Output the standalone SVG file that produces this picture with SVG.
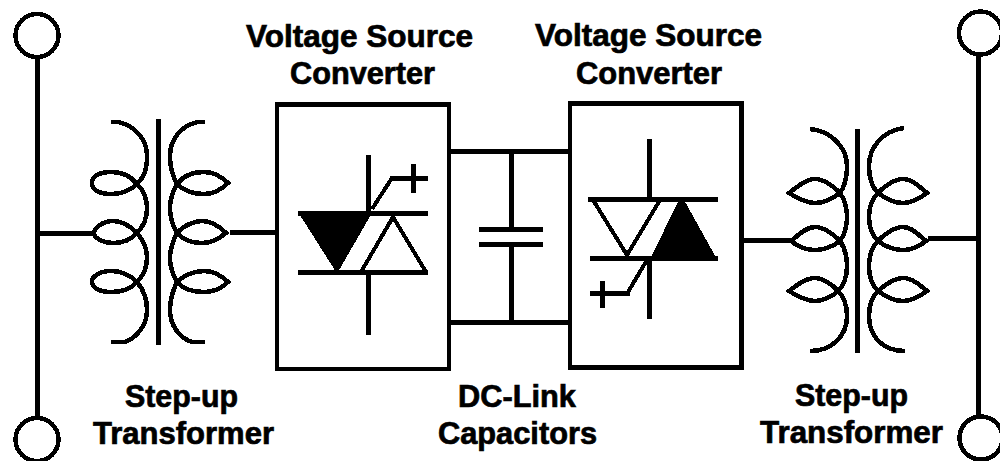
<svg xmlns="http://www.w3.org/2000/svg" width="1000" height="461" viewBox="0 0 1000 461">
<defs>
<style>
.l{fill:none;stroke:#000;stroke-width:5;shape-rendering:crispEdges}
.c{fill:none;stroke:#000;stroke-width:4.5;shape-rendering:crispEdges}
.t{fill:none;stroke:#000;stroke-width:4;stroke-linejoin:miter;shape-rendering:crispEdges}
.f{fill:#000;stroke:none;shape-rendering:crispEdges}
.b{fill:#fff;stroke:#000;stroke-width:4.5;shape-rendering:crispEdges}
text{font-family:"Liberation Sans",Arial,sans-serif;font-weight:700;font-size:30.5px;fill:#000;stroke:#000;stroke-width:.7}
</style>
</defs>
<rect width="1000" height="461" fill="#fff"/>
<g id="connectors">
<path class="l" d="M37.500 57V417M38 233H93M230 232H276"/>
<path class="l" d="M449 151H570M449 322H570M511 151V229M511 244V322"/>
<path class="l" d="M744 240H790M928 238H978M978.300 55V416"/>
</g>
<g id="bus-top-left"><circle class="c" cx="37" cy="35.500" r="21.500"/></g>
<g id="bus-bottom-left"><circle class="c" cx="37" cy="439.500" r="21.500"/></g>
<g id="bus-top-right"><circle class="c" cx="980.500" cy="33" r="21.500"/></g>
<g id="bus-bottom-right"><circle class="c" cx="981" cy="438" r="21.500"/></g>
<g id="transformer-left">
<path class="l" d="M158.500 119V345"/>
<path class="c" d="M111 122H118C136 126 147 140 147 156C147 170 144 177 137 184C130 191 120 194 111 194C100 194 92 190 92 183C92 176 100 172 111 172C120 172 130 175 137 184C144 191 147 198 147 208C147 218 144 226 137 233C130 241 120 243 113 243C103 243 94 238 94 233C94 228 103 221 113 221C120 221 130 225 137 233C144 241 147 248 147 258C147 268 144 275 137 282C130 290 120 292 111 292C100 292 92 288 92 282C92 276 100 271 111 271C120 271 130 275 137 282C144 290 147 298 147 310C147 326 136 338 125 342H111"/>
<path class="c" d="M205 122H198C180 126 170 140 170 156C170 170 173 177 177 184C184 191 195 194 204 194C214 194 222 189 228 183C222 177 214 172 204 172C195 172 184 175 177 184C173 191 170 198 170 208C170 218 173 226 177 233C184 241 195 243 202 243C212 243 220 238 226 233C220 227 212 221 202 221C195 221 184 225 177 233C173 241 170 248 170 258C170 268 173 275 177 282C184 290 195 292 204 292C214 292 222 288 228 282C222 276 214 271 204 271C195 271 184 275 177 282C173 290 170 298 170 310C170 326 180 338 192 342H205"/>
</g>
<g id="converter-left">
<rect class="b" x="277" y="104.500" width="172" height="264.500"/>
<path class="l" d="M368 155V213M368 272V335M298 213.500H428M298 272H428"/>
<path class="f" d="M298 212H372.500L338 272H336Z"/>
<path class="t" d="M361 272L393 217L426 272"/>
<path class="t" d="M372 209L392 178"/>
<path class="l" d="M390 178H428M413 164V193"/>
</g>
<g id="capacitors">
<path class="l" d="M479 229H543M479 244H543"/>
</g>
<g id="converter-right">
<rect class="b" x="570" y="103.500" width="171.500" height="264"/>
<path class="l" d="M649.300 139V199M649.300 258V319M588 199.500H718M590 258H718"/>
<path class="t" d="M593 200L627 255L660 200"/>
<path class="f" d="M683 198L718 261H649L680 198Z"/>
<path class="t" d="M647 260L628 292"/>
<path class="l" d="M590 293H630M602 281V308"/>
</g>
<g id="transformer-right">
<path class="l" d="M857.500 129V353"/>
<path class="c" d="M810 129C832 131 847 148 847 166C847 178 845 186 840 193C832 199 822 203 815 203C806 203 797 198 789 193C797 187 806 179 815 179C822 179 832 184 840 193C845 200 847 208 847 217C847 227 845 234 840 241C832 247 822 250 815 250C806 250 797 246 791 241C797 236 806 227 815 227C822 227 832 232 840 241C845 248 847 256 847 266C847 276 845 284 838 291C832 297 822 301 815 301C806 301 797 296 789 291C797 285 806 278 815 278C822 278 832 284 838 291C845 298 847 307 847 316C847 336 832 351 810 351"/>
<path class="c" d="M904 128C882 131 869 148 869 166C869 178 871 186 878 193C886 199 896 203 903 203C912 203 920 198 927 193C920 187 912 179 903 179C896 179 886 184 878 193C871 200 869 208 869 217C869 227 871 234 878 241C886 247 896 250 903 250C912 250 920 246 926 241C920 236 912 227 903 227C896 227 886 232 878 241C871 248 869 256 869 266C869 276 871 284 878 291C886 297 896 301 903 301C912 301 920 296 927 291C920 285 912 278 903 278C896 278 886 284 878 291C871 298 869 307 869 316C869 336 882 351 905 351"/>
</g>
<g id="labels">
<text x="246" y="46.500" textLength="227" lengthAdjust="spacingAndGlyphs">Voltage Source</text>
<text x="290" y="84" textLength="145" lengthAdjust="spacingAndGlyphs">Converter</text>
<text x="535" y="46" textLength="227" lengthAdjust="spacingAndGlyphs">Voltage Source</text>
<text x="576" y="84" textLength="146" lengthAdjust="spacingAndGlyphs">Converter</text>
<text x="125" y="406.500" textLength="113" lengthAdjust="spacingAndGlyphs">Step-up</text>
<text x="93" y="444" textLength="181" lengthAdjust="spacingAndGlyphs">Transformer</text>
<text x="458" y="406.500" textLength="118" lengthAdjust="spacingAndGlyphs">DC-Link</text>
<text x="438" y="444" textLength="159" lengthAdjust="spacingAndGlyphs">Capacitors</text>
<text x="795" y="406" textLength="113" lengthAdjust="spacingAndGlyphs">Step-up</text>
<text x="760" y="443" textLength="183" lengthAdjust="spacingAndGlyphs">Transformer</text>
</g>
</svg>
